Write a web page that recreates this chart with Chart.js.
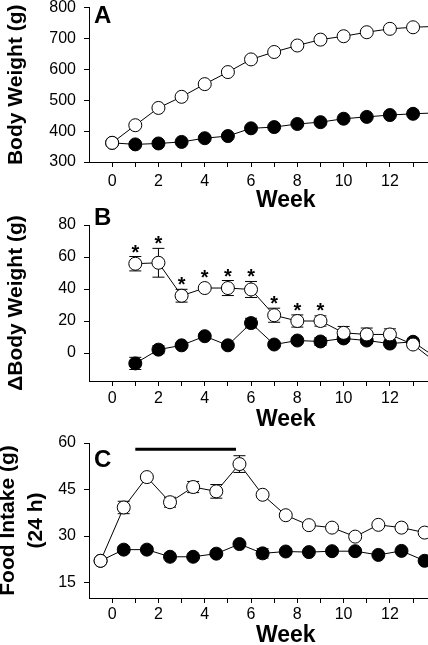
<!DOCTYPE html>
<html>
<head>
<meta charset="utf-8">
<script src="https://cdn.jsdelivr.net/npm/chart.js@4.4.1/dist/chart.umd.min.js"></script>
<style>
  html, body { margin: 0; padding: 0; background: #fff; overflow: hidden; width: 428px; height: 645px; }
  canvas { position: absolute; left: 0; }
</style>
</head>
<body>
<canvas id="chartA" width="490" height="215" style="top:0px"></canvas>
<canvas id="chartB" width="490" height="235" style="top:200px"></canvas>
<canvas id="chartC" width="490" height="232" style="top:420px"></canvas>
<script>
// panel A - body weight
const weeksA = [0, 1, 2, 3, 4, 5, 6, 7, 8, 9, 10, 11, 12, 13, 14];
const bwOpen = [362, 419, 475, 511, 552, 591, 632, 656, 677, 696, 707, 720, 731, 736, 739];
const bwFilled = [362, 357, 360, 365, 377, 384, 409, 413, 423, 429, 440, 446, 452, 456, 459];

// panel B - change in body weight
const weeksB = [1, 2, 3, 4, 5, 6, 7, 8, 9, 10, 11, 12, 13, 14];
const dbwOpen = [55.8, 56.4, 35.8, 40.6, 40.6, 39.7, 23.6, 20, 20, 12.6, 11.6, 11.6, 5.3, -6];
const dbwOpenErr = [4.5, 9, 4, 1, 4.7, 5, 4.4, 3.8, 3.2, 4, 4, 3.5, 1, 0];
const dbwFilled = [-6.5, 2.1, 4.8, 10.5, 4.8, 18.7, 5.3, 7.8, 7.2, 9.1, 7.8, 5.9, 7, -3];
const dbwFilledErr = [3.8, 2.5, 1, 1.5, 1, 3, 1.5, 1, 2.5, 2, 1.5, 1, 1, 0];
const sigWeeksB = [1, 2, 3, 4, 5, 6, 7, 8, 9];

// panel C - food intake
const weeksC = [-0.5, 0.5, 1.5, 2.5, 3.5, 4.5, 5.5, 6.5, 7.5, 8.5, 9.5, 10.5, 11.5, 12.5, 13.5];
const fiOpen = [22, 39.2, 49, 40.9, 45.8, 44.4, 53.2, 43.3, 36.7, 33.5, 32.7, 29.8, 33.6, 32.7, 31.1];
const fiOpenErr = [0, 2, 0.8, 1.6, 1.8, 2.2, 2.7, 0.8, 0.5, 0.5, 0.5, 0.5, 0.5, 0.5, 0.5];
const fiFilled = [22, 25.6, 25.6, 23.3, 23.3, 24.3, 27.4, 24.4, 25, 24.8, 25.1, 25.1, 23.9, 25.2, 22];
const fiFilledErr = [0, 1, 0.5, 0.5, 0.5, 0.5, 0.5, 1.5, 0.5, 0.5, 0.5, 0.5, 0.5, 0.5, 0.5];
const barWeeksC = [1, 5.35];
const barLevelC = 58;

const FONT = 'Arial, "Liberation Sans", sans-serif';

function pts(xs, ys) {
  return xs.map((x, i) => ({ x: x, y: ys[i] }));
}

function series(xs, ys, errs, fill) {
  return {
    data: pts(xs, ys),
    errors: errs,
    borderColor: '#000',
    borderWidth: 1,
    pointRadius: 6.5,
    pointBorderWidth: 1,
    pointBorderColor: '#000',
    pointBackgroundColor: fill,
    tension: 0
  };
}

// error bars under the points
const errorBars = {
  id: 'errorBars',
  beforeDatasetsDraw(chart) {
    const ctx = chart.ctx;
    const ys = chart.scales.y;
    ctx.save();
    ctx.strokeStyle = '#000';
    ctx.lineWidth = 1;
    chart.data.datasets.forEach((ds, i) => {
      if (!ds.errors) return;
      const meta = chart.getDatasetMeta(i);
      ds.data.forEach((d, j) => {
        const e = ds.errors[j];
        if (!e) return;
        const x = meta.data[j].x;
        const y1 = ys.getPixelForValue(d.y + e);
        const y2 = ys.getPixelForValue(d.y - e);
        ctx.beginPath();
        ctx.moveTo(x, y1); ctx.lineTo(x, y2);
        ctx.moveTo(x - 6, y1); ctx.lineTo(x + 6, y1);
        ctx.moveTo(x - 6, y2); ctx.lineTo(x + 6, y2);
        ctx.stroke();
      });
    });
    ctx.restore();
  }
};

function letter(txt, dy) {
  return {
    id: 'letter' + txt,
    afterDraw(chart) {
      const ctx = chart.ctx;
      ctx.save();
      ctx.fillStyle = '#000';
      ctx.font = 'bold 24px ' + FONT;
      ctx.textBaseline = 'alphabetic';
      ctx.fillText(txt, chart.chartArea.left + 5, chart.chartArea.top + dy);
      ctx.restore();
    }
  };
}

const stars = {
  id: 'stars',
  afterDatasetsDraw(chart) {
    const ctx = chart.ctx;
    const ys = chart.scales.y, xs = chart.scales.x;
    ctx.save();
    ctx.fillStyle = '#000';
    ctx.font = 'bold 20px ' + FONT;
    ctx.textAlign = 'center';
    ctx.textBaseline = 'alphabetic';
    sigWeeksB.forEach(w => {
      const i = weeksB.indexOf(w);
      const top = ys.getPixelForValue(dbwOpen[i] + Math.max(dbwOpenErr[i], 3.8));
      ctx.fillText('*', xs.getPixelForValue(w), top + 2);
    });
    ctx.restore();
  }
};

function xAxis(tickPad, axisH, titlePad) {
  return {
    type: 'linear',
    min: -1,
    max: 16,
    afterBuildTicks: s => { s.ticks = s.ticks.filter(t => t.value >= 0 && Number.isInteger(t.value)); },
    afterFit: s => { s.height = axisH; s.paddingLeft = 0; s.paddingRight = 0; },
    ticks: {
      stepSize: 1, autoSkip: false, maxRotation: 0, padding: tickPad, color: '#000',
      font: { family: FONT, size: 16 },
      callback: v => (v % 2 === 0 && v <= 12 ? v : '')
    },
    grid: { drawOnChartArea: false, tickLength: 5, color: '#000' },
    border: { color: '#000', width: 1 },
    title: {
      display: true, text: 'Week', color: '#000',
      font: { family: FONT, size: 23, weight: 'bold' },
      padding: { top: 0, bottom: titlePad }
    }
  };
}

function yAxis(min, max, tickVals, title, titleFont, titlePad) {
  return {
    type: 'linear',
    min: min,
    max: max,
    afterBuildTicks: s => { s.ticks = tickVals.map(v => ({ value: v })); },
    afterFit: s => { s.width = 89; s.paddingTop = 0; s.paddingBottom = 0; },
    ticks: { padding: 8, color: '#000', font: { family: FONT, size: 16 } },
    grid: { drawOnChartArea: false, tickLength: 5, color: '#000' },
    border: { color: '#000', width: 1 },
    title: {
      display: true, text: title, color: '#000',
      font: titleFont,
      padding: { top: titlePad, bottom: 0 }
    }
  };
}

function baseOptions(padTop, x, y) {
  return {
    responsive: false,
    animation: false,
    layout: { padding: { top: padTop, left: 0, right: 0, bottom: 0 } },
    plugins: { legend: { display: false }, tooltip: { enabled: false } },
    scales: { x: x, y: y }
  };
}

const yTitleFont = { family: FONT, size: 21, weight: 'bold' };

new Chart(document.getElementById('chartA'), {
  type: 'line',
  data: {
    datasets: [
      series(weeksA, bwOpen, null, '#fff'),
      series(weeksA, bwFilled, null, '#000')
    ]
  },
  options: baseOptions(7, xAxis(5, 53, 1),
    yAxis(300, 800, [300, 400, 500, 600, 700, 800], 'Body Weight (g)', yTitleFont, 4)),
  plugins: [errorBars, letter('A', 15)]
});

new Chart(document.getElementById('chartB'), {
  type: 'line',
  data: {
    datasets: [
      series(weeksB, dbwOpen, dbwOpenErr, '#fff'),
      series(weeksB, dbwFilled, dbwFilledErr, '#000')
    ]
  },
  options: baseOptions(25, xAxis(3, 54, 2),
    yAxis(-17.5, 80, [0, 20, 40, 60, 80], '\u0394Body Weight (g)', yTitleFont, 4)),
  plugins: [errorBars, stars, letter('B', 0)]
});

new Chart(document.getElementById('chartC'), {
  type: 'line',
  data: {
    datasets: [
      series(weeksC, fiOpen, fiOpenErr, '#fff'),
      series(weeksC, fiFilled, fiFilledErr, '#000'),
      {
        data: barWeeksC.map(w => ({ x: w, y: barLevelC })),
        borderColor: '#000',
        borderWidth: 3,
        pointRadius: 0
      }
    ]
  },
  options: baseOptions(23, xAxis(2, 54, 3),
    yAxis(10, 60, [15, 30, 45, 60], ['Food Intake (g)', '(24 h)'],
      { family: FONT, size: 21, weight: 'bold', lineHeight: 1.3 }, -5)),
  plugins: [errorBars, letter('C', 24)]
});
</script>
</body>
</html>
